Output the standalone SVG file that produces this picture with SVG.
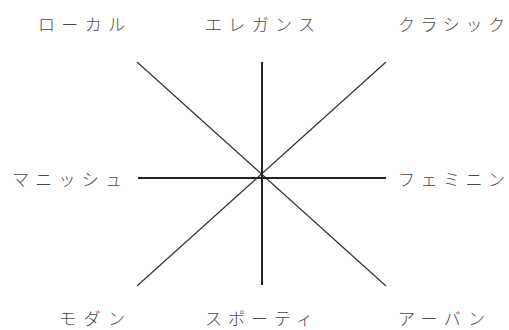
<svg xmlns="http://www.w3.org/2000/svg" width="509" height="330" viewBox="0 0 509 330">
<style>
text{font-family:"Noto Sans CJK JP","Noto Sans",sans-serif;font-size:17px;font-weight:300;fill:#4a4a4a}
.d{stroke:#333;stroke-width:1.2}
.a{stroke:#222;stroke-width:2}
</style>
<rect width="509" height="330" fill="#fff"/>
<g id="connectors">
<line class="d" x1="137" y1="62" x2="386" y2="286"/>
<line class="d" x1="386" y1="62" x2="137" y2="286"/>
<line class="a" x1="262" y1="62" x2="262" y2="285"/>
<line class="a" x1="138" y1="178" x2="386" y2="178"/>
</g>
<g id="local"><text x="38" y="31" textLength="87" lengthAdjust="spacing">ローカル</text></g>
<g id="elegance"><text x="205" y="31" textLength="110" lengthAdjust="spacing">エレガンス</text></g>
<g id="classic"><text x="398" y="31" textLength="107" lengthAdjust="spacing">クラシック</text></g>
<g id="mannish"><text x="12" y="186" textLength="110" lengthAdjust="spacing">マニッシュ</text></g>
<g id="feminine"><text x="398" y="186" textLength="107" lengthAdjust="spacing">フェミニン</text></g>
<g id="modern"><text x="59" y="325" textLength="66" lengthAdjust="spacing">モダン</text></g>
<g id="sporty"><text x="205" y="325" textLength="108" lengthAdjust="spacing">スポーティ</text></g>
<g id="urban"><text x="398" y="325" textLength="87" lengthAdjust="spacing">アーバン</text></g>
</svg>
